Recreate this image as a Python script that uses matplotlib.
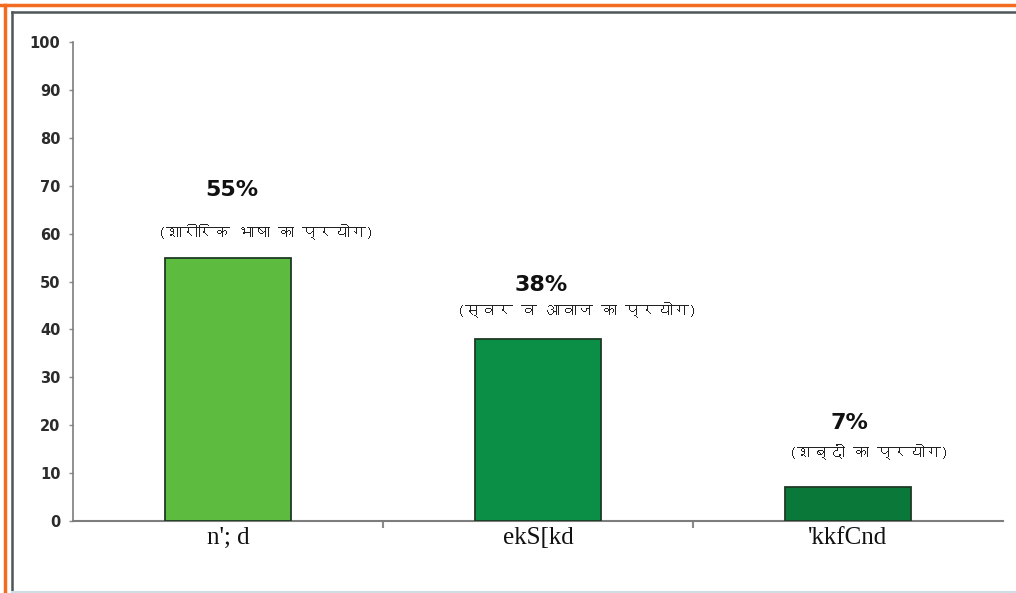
import matplotlib
matplotlib.use('Agg')
import matplotlib.pyplot as plt
from matplotlib import font_manager
from matplotlib.ft2font import FT2Font
from matplotlib.lines import Line2D

# data
categories = ["n'; d", "ekS[kd", "'kkfCnd"]
values = [55, 38, 7]
pct_labels = ['55%', '38%', '7%']
hindi_labels = ['(शारीरिक भाषा का प्रयोग)', '(स्वर व आवाज का प्रयोग)', '(शब्दों का प्रयोग)']
yticks = [0, 10, 20, 30, 40, 50, 60, 70, 80, 90, 100]

bar_colors = ['#5dbb3f', '#0b8e46', '#0a7838']


def find_devanagari_font():
    for f in font_manager.fontManager.ttflist:
        try:
            cmap = FT2Font(f.fname).get_charmap()
        except Exception:
            continue
        if 0x0915 in cmap and 0x093F in cmap:
            return f.name
    return None


dev_font = find_devanagari_font()
hindi_family = [dev_font, 'DejaVu Sans'] if dev_font else ['DejaVu Sans']

fig = plt.figure(figsize=(10.16, 5.93), dpi=100)
ax = fig.add_axes([73 / 1016, 1 - 521 / 593, 930 / 1016, 479 / 593])

x = list(range(len(categories)))
ax.bar(x, values, width=0.405, color=bar_colors, edgecolor='#1d3a24', linewidth=1.3, zorder=3)

ax.set_xlim(-0.5, len(categories) - 0.5)
ax.set_ylim(0, 100)
ax.set_yticks(yticks)
ax.set_yticklabels([str(v) for v in yticks], fontsize=10.5, fontweight='bold', color='#2b2b2b',
                   family='DejaVu Sans')
ax.tick_params(axis='y', direction='out', length=3, width=1, color='#8a8a8a', pad=6)

ax.set_xticks(x)
ax.set_xticklabels(categories, fontsize=18, family='Liberation Serif', color='#111111')
ax.tick_params(axis='x', which='major', length=0, pad=4)
ax.set_xticks([0.5, 1.5], minor=True)
ax.tick_params(axis='x', which='minor', direction='out', length=5, width=1.5, color='#8a8a8a')

for side in ['top', 'right']:
    ax.spines[side].set_visible(False)
ax.spines['left'].set_color('#7d7d7d')
ax.spines['bottom'].set_color('#7d7d7d')
ax.spines['left'].set_linewidth(1.2)
ax.spines['bottom'].set_linewidth(1.5)

# labels above bars
pct_off = [(4, 68), (3, 54), (1, 64)]
hin_off = [(38, 26), (39, 29), (21, 35)]
for i in range(len(values)):
    ax.annotate(pct_labels[i], (x[i], values[i]), xytext=pct_off[i], textcoords='offset pixels',
                ha='center', va='center', fontsize=16, fontweight='bold', color='#111111',
                family='DejaVu Sans')
    ax.annotate(hindi_labels[i], (x[i], values[i]), xytext=hin_off[i], textcoords='offset pixels',
                ha='center', va='center', fontsize=11.5, color='#222222', family=hindi_family)

# frame lines around the picture
fig.add_artist(Line2D([0, 1], [1 - 5 / 593, 1 - 5 / 593], color='#f26b21', lw=2.5))
fig.add_artist(Line2D([5 / 1016, 5 / 1016], [0, 1 - 5 / 593], color='#f26b21', lw=2.5))
fig.add_artist(Line2D([12 / 1016, 1], [1 - 12 / 593, 1 - 12 / 593], color='#4e5659', lw=1.8))
fig.add_artist(Line2D([12 / 1016, 12 / 1016], [0, 1 - 12 / 593], color='#4e5659', lw=1.8))
fig.add_artist(Line2D([12 / 1016, 1], [1.5 / 593, 1.5 / 593], color='#cfdde6', lw=1.5))

fig.savefig('out.png', dpi=100)
